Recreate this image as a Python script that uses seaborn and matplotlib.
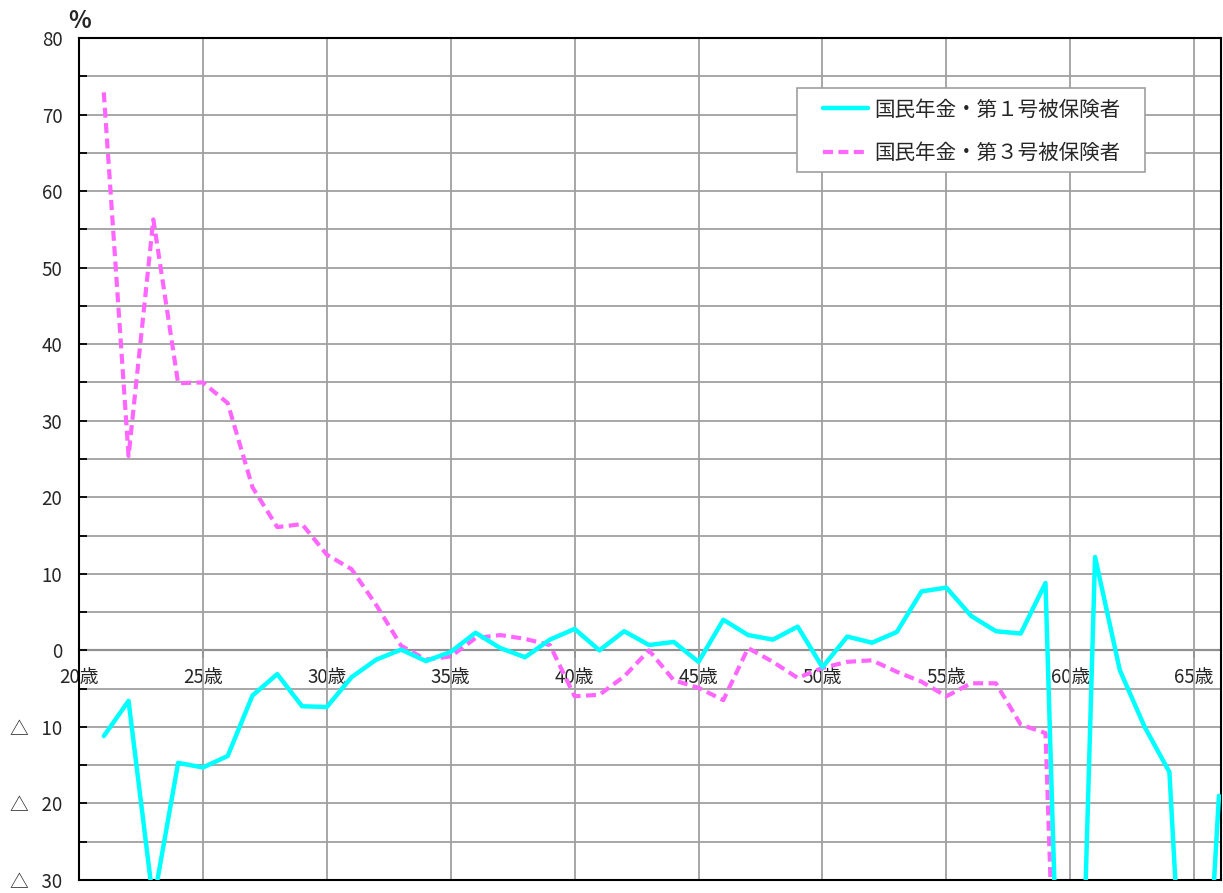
import numpy as np
import pandas as pd
import matplotlib
matplotlib.use("Agg")
import matplotlib.pyplot as plt
from matplotlib.ticker import MultipleLocator, FixedLocator, FixedFormatter
from matplotlib.lines import Line2D
from matplotlib.patches import Rectangle
import seaborn as sns

# ---- data ----
ages_1 = list(range(21, 67))
rate_1 = [-11.2, -6.6, -33.0, -14.7, -15.3, -13.8, -5.9, -3.1, -7.3, -7.4,
          -3.5, -1.2, 0.1, -1.4, -0.2, 2.3, 0.3, -0.9, 1.4, 2.8,
          0.0, 2.5, 0.7, 1.1, -1.5, 4.0, 2.0, 1.4, 3.1, -2.2,
          1.8, 1.0, 2.4, 7.7, 8.2, 4.5, 2.5, 2.2, 8.8, -100.0,
          12.2, -2.6, -10.0, -15.9, -75.0, -19.0]
ages_3 = list(range(21, 61))
rate_3 = [72.9, 25.4, 56.3, 34.9, 35.0, 32.3, 21.3, 16.1, 16.5, 12.5,
          10.6, 5.9, 0.6, -1.2, -0.8, 1.6, 2.0, 1.5, 0.7, -6.0,
          -5.8, -3.4, 0.0, -3.9, -4.9, -6.5, 0.3, -1.5, -3.6, -2.3,
          -1.5, -1.3, -2.8, -4.1, -6.0, -4.3, -4.3, -9.7, -10.8, -106.0]
series_names = ["国民年金・第１号被保険者", "国民年金・第３号被保険者"]
x_ticks = list(range(20, 66, 5))
x_tick_labels = [f"{a}歳" for a in x_ticks]
y_ticks = list(range(-30, 81, 10))
y_tick_labels = [f"△   {-v}" if v < 0 else f"{v}" for v in y_ticks]

df1 = pd.DataFrame({"age": ages_1, "rate": rate_1})
df3 = pd.DataFrame({"age": ages_3, "rate": rate_3})

sns.set_style("white")
plt.rcParams["font.family"] = ["Noto Sans CJK JP", "DejaVu Sans"]

fig = plt.figure(figsize=(12.23, 8.93), dpi=100)
ax = fig.add_axes([79 / 1223, 13 / 893, (1220.7 - 79) / 1223, (880 - 38) / 893])

c1 = "#00FFFF"
c3 = "#FF66FF"
dash3 = (0, (2.4, 1.3))
sns.lineplot(data=df1, x="age", y="rate", ax=ax, color=c1, lw=3.2, zorder=4)
sns.lineplot(data=df3, x="age", y="rate", ax=ax, color=c3, lw=3.0, zorder=3,
             linestyle=dash3)

ax.set_xlim(20, 66.07)
ax.set_ylim(-30, 80)
ax.set_xlabel("")
ax.set_ylabel("")

# grid
grid_c = "#a0a0a0"
ax.yaxis.set_major_locator(FixedLocator(y_ticks))
ax.yaxis.set_major_formatter(FixedFormatter(y_tick_labels))
ax.yaxis.set_minor_locator(MultipleLocator(5))
ax.xaxis.set_major_locator(FixedLocator(x_ticks))
ax.grid(True, which="both", axis="y", color=grid_c, lw=1.3)
ax.grid(True, which="major", axis="x", color=grid_c, lw=1.3)
ax.tick_params(axis="y", which="both", direction="in", length=6, width=1.3,
               color="black", labelsize=13.5, pad=12, left=True)
ax.tick_params(axis="x", which="both", bottom=False, labelbottom=False)
for s in ax.spines.values():
    s.set_color("black")
    s.set_linewidth(1.5)
    s.set_visible(True)

# zero axis with age labels
secx = ax.secondary_xaxis(30 / 110)
secx.set_xticks(x_ticks)
secx.set_xticklabels(x_tick_labels)
secx.tick_params(direction="out", length=6, width=1.3, labelsize=13.5, pad=6)
secx.spines["bottom"].set_color("black")
secx.spines["bottom"].set_linewidth(1.5)

fig.text(68 / 1223, 1 - 28.5 / 893, "%", fontsize=17, fontweight="bold",
         ha="left", va="baseline")

# legend box
W, H = 1141.7, 842.0
box = Rectangle(((797 - 79) / W, (880 - 172) / H), 348 / W, 84 / H,
                transform=ax.transAxes, facecolor="white", edgecolor="#a0a0a0",
                lw=1.2, zorder=6)
ax.add_patch(box)

handles = [Line2D([], [], color=c1, lw=3.2),
           Line2D([], [], color=c3, lw=3.0, linestyle=dash3)]
leg = ax.legend(handles, series_names, loc="upper left",
                bbox_to_anchor=((823 - 79) / W, (880 - 98.5) / H),
                fontsize=14.8, frameon=False, handlelength=2.2,
                handletextpad=0.3, borderpad=0, labelspacing=1.05,
                borderaxespad=0)
leg.set_zorder(7)

fig.savefig("out.png", dpi=100)
